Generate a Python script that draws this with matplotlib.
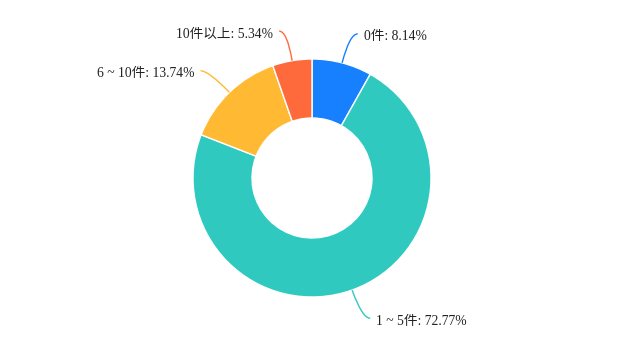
import numpy as np
import matplotlib
matplotlib.use("Agg")
from matplotlib import pyplot as plt
from matplotlib.path import Path
from matplotlib.patches import PathPatch

plt.rcParams['font.family'] = ['Liberation Serif', 'Noto Sans CJK SC']

# data
labels = ["0件", "1 ~ 5件", "6 ~ 10件", "10件以上"]
values = [8.14, 72.77, 13.74, 5.34]
colors = ["#1680FF", "#30C9BF", "#FFB933", "#FF6A3C"]

W, H = 625, 355
fig = plt.figure(figsize=(W / 100, H / 100), dpi=100)
ax = fig.add_axes([0, 0, 1, 1])

cx, cy, R, r_in = 312, H - 178, 119, 60
wedges, _ = ax.pie(values, colors=colors, startangle=90, counterclock=False,
                   center=(cx, cy), radius=R, frame=True,
                   wedgeprops=dict(width=R - r_in, edgecolor="white", linewidth=1))
ax.set_xlim(0, W)
ax.set_ylim(0, H)
ax.set_aspect("equal")
ax.axis("off")

radial_len = 30
horiz_len = 8
for w, lab, val, col in zip(wedges, labels, values, colors):
    ang = np.deg2rad((w.theta1 + w.theta2) / 2)
    dx, dy = np.cos(ang), np.sin(ang)
    p0 = (cx + R * dx, cy + R * dy)
    p1 = (p0[0] + radial_len * dx, p0[1] + radial_len * dy)
    side = 1 if dx >= 0 else -1
    p2 = (p1[0] + side * horiz_len, p1[1])
    path = Path([p0, p1, p2], [Path.MOVETO, Path.CURVE3, Path.CURVE3])
    ax.add_patch(PathPatch(path, facecolor="none", edgecolor=col, lw=1))
    ax.text(p2[0] + side * 6, p2[1] - 3, f"{lab}: {val:.2f}%",
            ha="left" if side > 0 else "right", va="center",
            fontsize=9.8, color="#222222")

fig.savefig("out.png", dpi=100)
